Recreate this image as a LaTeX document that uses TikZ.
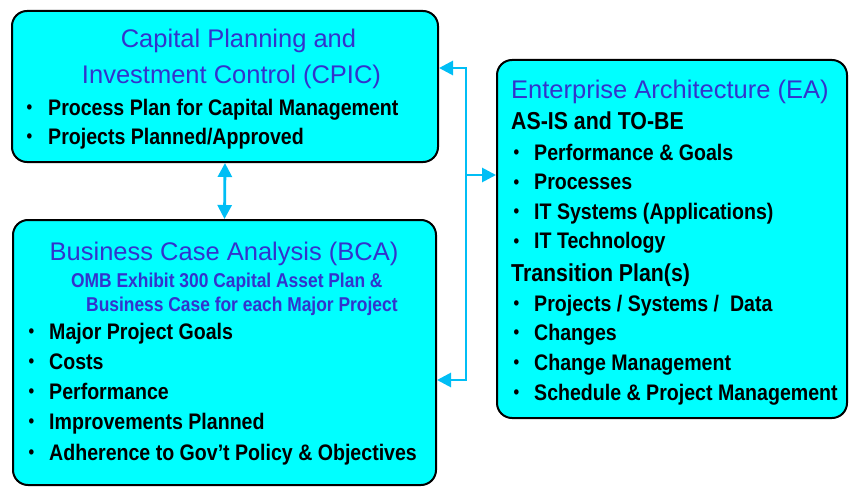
\documentclass[tikz,border=0pt]{standalone}
\usepackage{fontspec}
\setmainfont{Liberation Sans}
\newfontfamily\narrow[FakeStretch=0.87]{Liberation Sans}
\usetikzlibrary{arrows.meta}
\definecolor{boxfill}{RGB}{0,255,255}
\definecolor{titleblue}{RGB}{51,51,204}
\definecolor{linkblue}{RGB}{0,190,245}
\tikzset{
  box/.style={draw=black, line width=2pt, fill=boxfill, rounded corners=15pt, inner sep=0pt},
  title/.style={inner sep=0pt, anchor=base, text=titleblue, font=\fontsize{25.5}{30}\selectfont},
  sub/.style={inner sep=0pt, anchor=base west, text=titleblue, font=\narrow\bfseries\fontsize{20}{24}\selectfont},
  head/.style={inner sep=0pt, anchor=base west, font=\narrow\bfseries\fontsize{24.5}{28}\selectfont},
  item/.style={inner sep=0pt, anchor=base west, font=\narrow\bfseries\fontsize{22.5}{27}\selectfont},
  link/.style={draw=linkblue, line width=2.8pt, {Triangle[width=14pt,length=14pt]}-{Triangle[width=14pt,length=14pt]}},
}
\newcommand\bl[2]{\makebox[#1][l]{\hspace{2.5pt}\raisebox{1.4pt}{\fontsize{18.5}{18}\selectfont •}}#2}
\begin{document}
\begin{tikzpicture}[x=1pt,y=-1pt]
\useasboundingbox (0,0) rectangle (851,487);
% boxes
\node[box, minimum width=426pt, minimum height=151pt] (cpic) at (225,86.5) {};
\node[box, minimum width=423pt, minimum height=265pt] (bca) at (224.5,352.5) {};
\node[box, minimum width=350pt, minimum height=358pt] (ea) at (672,239) {};
% CPIC text
\node[title] (cpict1) at (238.5,48) {Capital Planning and};
\node[title] (cpict2) at (231.5,84) {Investment Control (CPIC)};
\node[item] (cpici1) at (24,115) {\bl{24pt}{Process Plan for Capital Management}};
\node[item] (cpici2) at (24,144) {\bl{24pt}{Projects Planned/Approved}};
% BCA text
\node[title] (bcat) at (224,260) {Business Case Analysis (BCA)};
\node[sub] (bcas1) at (71,287) {OMB Exhibit 300 Capital Asset Plan \&};
\node[sub] (bcas2) at (86,311) {Business Case for each Major Project};
\node[item] (bcai1) at (26,339) {\bl{23pt}{Major Project Goals}};
\node[item] (bcai2) at (26,369) {\bl{23pt}{Costs}};
\node[item] (bcai3) at (26,399) {\bl{23pt}{Performance}};
\node[item] (bcai4) at (26,429) {\bl{23pt}{Improvements Planned}};
\node[item] (bcai5) at (26,460) {\bl{23pt}{Adherence to Gov’t Policy \& Objectives}};
% EA text
\node[title, anchor=base west] (eat) at (511,99) {Enterprise Architecture (EA)};
\node[head] (eah1) at (511,129) {AS-IS and TO-BE};
\node[item] (eai1) at (511,160) {\bl{23pt}{Performance \& Goals}};
\node[item] (eai2) at (511,189.5) {\bl{23pt}{Processes}};
\node[item] (eai3) at (511,219) {\bl{23pt}{IT Systems (Applications)}};
\node[item] (eai4) at (511,248.5) {\bl{23pt}{IT Technology}};
\node[head] (eah2) at (511,281) {Transition Plan(s)};
\node[item] (eai5) at (511,311) {\bl{23pt}{Projects / Systems /~ Data}};
\node[item] (eai6) at (511,340) {\bl{23pt}{Changes}};
\node[item] (eai7) at (511,370) {\bl{23pt}{Change Management}};
\node[item] (eai8) at (511,400) {\bl{23pt}{Schedule \& Project Management}};
% connectors
\draw[link] (cpic.south) -- (bca.north);
\coordinate (jt) at (466,68);
\coordinate (jb) at (466,380);
\coordinate (jm) at (466,175);
\draw[link, line join=miter] (jt -| cpic.east) -- (jt) -- (jb) -- (jb -| bca.east);
\draw[link, {Triangle[width=14pt,length=14pt]}-] (jm -| ea.west) -- (jm);
\end{tikzpicture}
\end{document}
